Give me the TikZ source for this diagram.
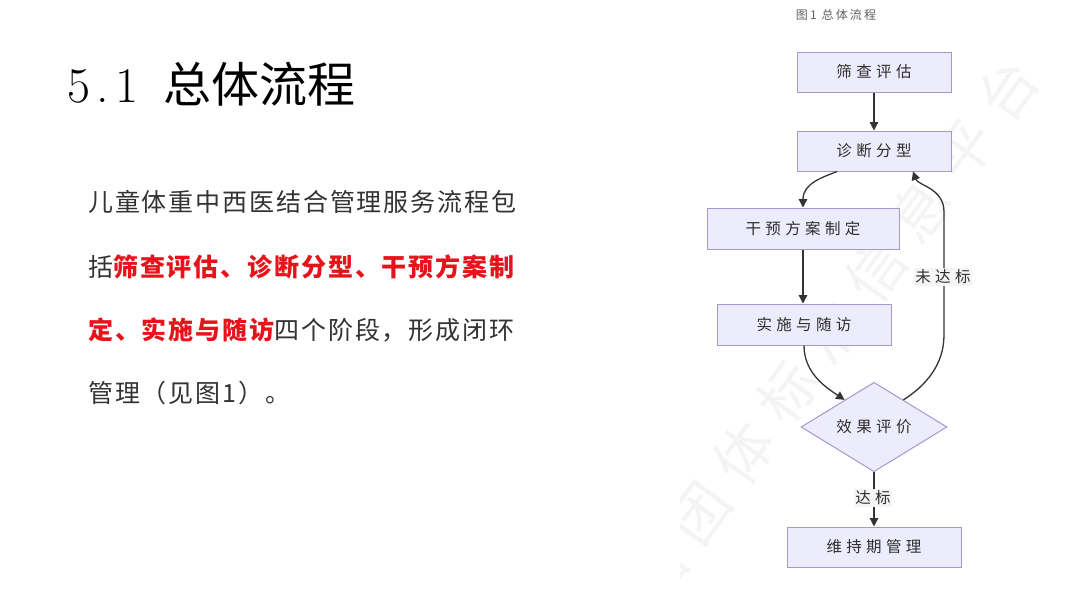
\documentclass[tikz,border=0pt]{standalone}
\usepackage{fontspec}
\usetikzlibrary{shapes.geometric,arrows.meta,calc}
\newfontfamily\cjk{Noto Sans CJK SC}
\newfontfamily\cjkpara[LetterSpace=7.5]{Noto Sans CJK SC}
\newfontfamily\cjkbox[LetterSpace=28]{Noto Sans CJK SC}
\newfontfamily\cjkcap[LetterSpace=18]{Noto Sans CJK SC}
\newfontfamily\cjkwm[LetterSpace=29]{Noto Sans CJK SC}
\definecolor{boxfill}{HTML}{ECECFC}
\definecolor{boxline}{HTML}{A597CF}
\definecolor{txt}{HTML}{333333}
\definecolor{boxtxt}{HTML}{2E2E2E}
\definecolor{hl}{HTML}{E8121A}
\definecolor{edge}{HTML}{333333}
\begin{document}
\begin{tikzpicture}[x=1pt,y=-1pt,
  stepbox/.style={draw=boxline, fill=boxfill, line width=1pt, inner sep=0pt, text=boxtxt,
    font=\cjkbox\fontsize{15.5}{18}\selectfont},
  decision/.style={stepbox, diamond, minimum width=146pt, minimum height=87pt},
  flow/.style={draw=edge, line width=1.3pt, -{Triangle[length=8.5pt,width=8.5pt]}},
  lbl/.style={fill=gray!8, text=boxtxt, inner sep=1.5pt, font=\cjkbox\fontsize{15.5}{18}\selectfont},
  para/.style={anchor=west, inner sep=0pt, text=txt, font=\cjkpara\fontsize{25}{30}\selectfont},
  wm/.style={text=gray!9, font=\cjkwm\fontsize{58}{58}\selectfont}]
\useasboundingbox[fill=white] (0,0) rectangle (1080,608);

% watermark
\begin{scope}
  \clip (680,0) rectangle (1080,608);
  \node[wm, rotate=54] (mark) at (831.7,331.8) {国团体标准信息平台};
\end{scope}

% title
\node[anchor=base west, inner sep=0pt] (title) at (67,102)
  {{\rmfamily\fontsize{50}{50}\selectfont\makebox[24pt][l]{5}\makebox[24pt][c]{.}\makebox[24pt][c]{1}}\hspace{24pt}{\cjk\fontsize{48}{48}\selectfont 总体流程}};

% paragraph
\node[para] (p1) at (88,202) {儿童体重中西医结合管理服务流程包};
\node[para] (p2) at (88,267) {括{\bfseries\color{hl}筛查评估、诊断分型、干预方案制}};
\node[para] (p3) at (88,330) {{\bfseries\color{hl}定、实施与随访}四个阶段，形成闭环};
\node[para] (p4) at (88,393) {管理（见图1）。};

% caption
\node[text=gray!75!black, font=\cjkcap\fontsize{12}{14}\selectfont] (cap) at (836,15) {图1 总体流程};

% flowchart nodes
\node[stepbox, minimum width=154pt, minimum height=40pt] (screen) at (874,72) {筛查评估};
\node[stepbox, minimum width=154pt, minimum height=40pt] (diag) at (874,151) {诊断分型};
\node[stepbox, minimum width=192pt, minimum height=41pt] (plan) at (803,228.5) {干预方案制定};
\node[stepbox, minimum width=174pt, minimum height=41pt] (impl) at (804,324.5) {实施与随访};
\node[decision] (eval) at (874,427) {效果评价};
\node[stepbox, minimum width=174pt, minimum height=40pt] (maint) at (874,547) {维持期管理};

\coordinate (loopA) at (944,335);
\coordinate (loopB) at (944,212);

% connectors
\draw[flow] (screen) -- (diag);
\draw[flow] ([xshift=-37pt]diag.south) .. controls +(-15,6) and +(0,-24) .. (plan.north);
\draw[flow] (plan.south) -- (plan.south |- impl.north);
\draw[flow] (impl.south) .. controls +(0,28) and +(-18,-12) .. ($(eval.north)!0.4!(eval.west)$);
\draw[flow] ($(eval.north)!0.4!(eval.east)$) .. controls +(22,-14) and +(0,30) .. (loopA)
  -- (loopB) .. controls +(0,-24) and +(5,14) .. ([xshift=39pt]diag.south);
\draw[flow] (eval.south) -- (maint.north);

% edge labels
\node[lbl] (notok) at (943,277) {未达标};
\node[lbl] (ok) at (873,498) {达标};
\end{tikzpicture}
\end{document}
